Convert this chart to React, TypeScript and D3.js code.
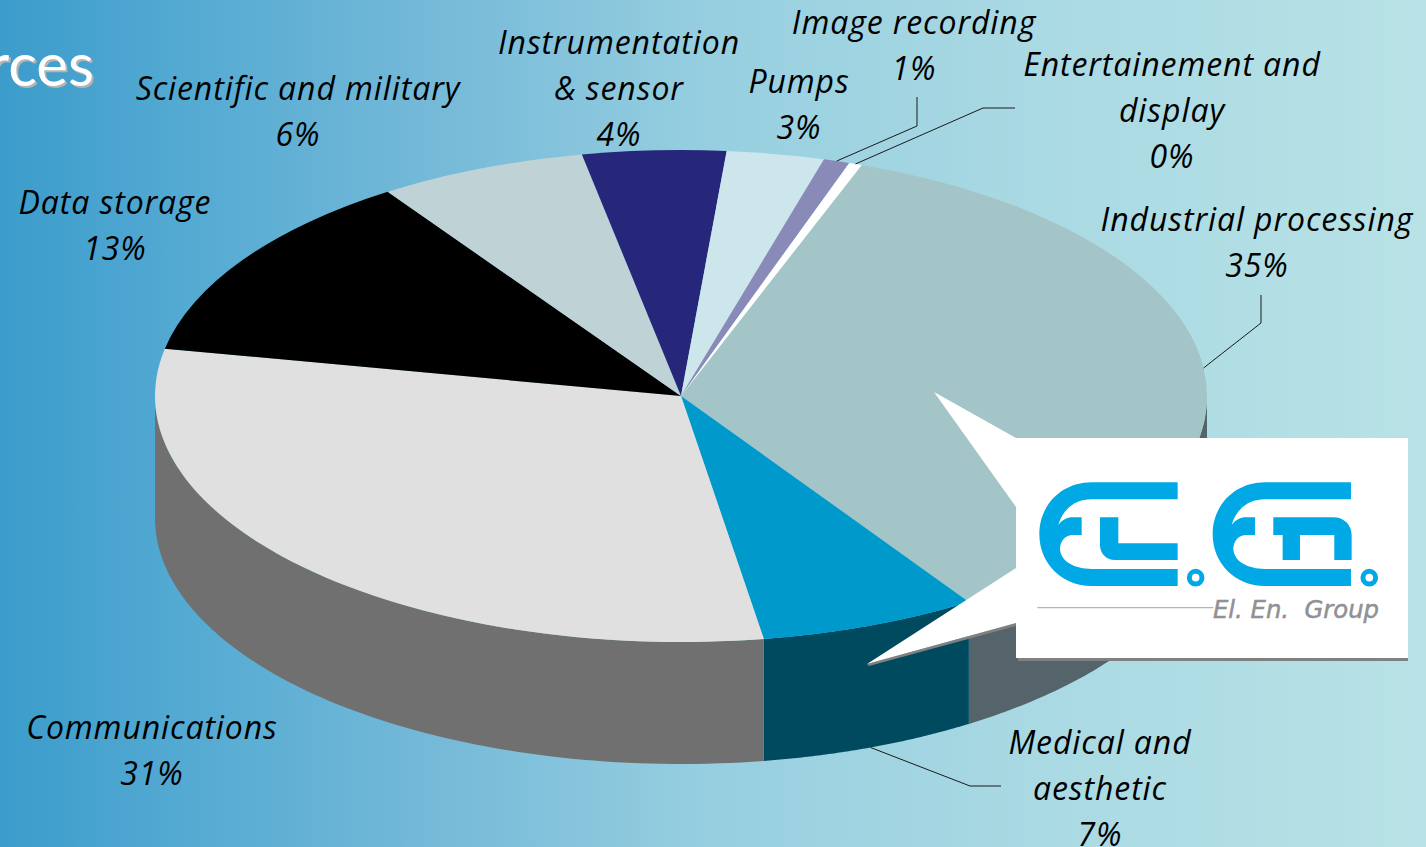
import React from "react";
import * as d3 from "d3";

// Market share by application, clockwise from the upper right of the pie.
const categories = [
  "Industrial processing",
  "Medical and aesthetic",
  "Communications",
  "Data storage",
  "Scientific and military",
  "Instrumentation & sensor",
  "Pumps",
  "Image recording",
  "Entertainement and display",
];
const shares = [35.2, 6.7, 30.6, 12.5, 6.4, 4.4, 3.0, 0.8, 0.4];
const topColors = ["#a4c5c8", "#0099cc", "#e0e0e0", "#000000", "#bfd2d6", "#26267a", "#cce6eb", "#8a8ab8", "#ffffff"];
const wallColors = ["#54646a", "#004a60", "#707070", "#000000", "#8f9ea1", "#1c1c5c", "#99adb0", "#686889", "#bfbfbf"];

const W = 1426;
const H = 847;
const cx = 681;
const cy = 396;
const rx = 526;
const ry = 246;
const depth = 122;
const firstAngle = (20.1 * Math.PI) / 180;

// Label text blocks: wrapped lines, centre x and first baseline.
const labelBlocks = [
  { lines: ["Industrial processing"], x: 1257, y: 231 },
  { lines: ["Medical and", "aesthetic"], x: 1100, y: 754 },
  { lines: ["Communications"], x: 152, y: 739 },
  { lines: ["Data storage"], x: 115, y: 214 },
  { lines: ["Scientific and military"], x: 298, y: 100 },
  { lines: ["Instrumentation", "& sensor"], x: 619, y: 54 },
  { lines: ["Pumps"], x: 799, y: 93 },
  { lines: ["Image recording"], x: 914, y: 34 },
  { lines: ["Entertainement and", "display"], x: 1172, y: 76 },
];
const lineStep = 46;

// Elbow leaders: slice index, whether it leaves the lower rim, and its outer points.
const leaders: [number, boolean, [number, number][]][] = [
  [0, false, [[1261, 323], [1261, 295]]],
  [1, true, [[970, 786], [1001, 786]]],
  [7, false, [[917, 126], [917, 97]]],
  [8, false, [[983, 108], [1015, 108]]],
];

const rimX = (a: number) => cx + rx * Math.sin(a);
const rimY = (a: number) => cy - ry * Math.cos(a);

const pieGen = d3
  .pie<number>()
  .sort(null)
  .startAngle(firstAngle)
  .endAngle(firstAngle + 2 * Math.PI);
const arcs = pieGen(shares);
const arcGen = d3.arc<d3.PieArcDatum<number>>().innerRadius(0).outerRadius(rx);
const polyline = d3.line<[number, number]>();

// Outer wall of one slice, limited to the front half of the ellipse.
function wallPath(a0: number, a1: number): string | null {
  const from = Math.max(a0, Math.PI / 2);
  const to = Math.min(a1, (3 * Math.PI) / 2);
  if (to <= from) return null;
  const steps = d3.range(0, 81).map((i) => from + ((to - from) * i) / 80);
  const upper = steps.map((a) => [rimX(a), rimY(a)] as [number, number]);
  const lower = steps.map((a) => [rimX(a), rimY(a) + depth] as [number, number]).reverse();
  return polyline([...upper, ...lower]) + "Z";
}

// One half of the company mark: rounded E outline with its crossbar.
const markE =
  "M533,187 H275 C185,187 118,255 118,342 C118,430 185,498 275,498 H533 V447 H275 C225,447 180,425 180,385 C182,360 198,345 218,345 H245 V292 H218 C202,292 186,300 175,315 C188,268 225,238 275,238 H533 Z";
const markL = "M300,292 H355 V370 H533 V420 H345 C318,420 300,400 300,375 Z";
const markN =
  "M820,292 H1000 C1032,292 1055,315 1055,345 V420 H1003 V345 H900 V420 H848 V345 H820 Z";

export default function App() {
  return (
    <svg
      width={W}
      height={H}
      viewBox={`0 0 ${W} ${H}`}
      style={{ position: "fixed", left: 0, top: 0, display: "block" }}
    >
      <defs>
        <linearGradient id="backdrop" x1="0" x2="1" y1="0" y2="0">
          <stop offset="0" stopColor="#3b9ccb" />
          <stop offset="0.12" stopColor="#52a9d2" />
          <stop offset="0.3" stopColor="#74b9d8" />
          <stop offset="0.5" stopColor="#97cfe0" />
          <stop offset="0.72" stopColor="#a9d9e3" />
          <stop offset="1" stopColor="#b8e2e6" />
        </linearGradient>
      </defs>
      <rect width={W} height={H} fill="url(#backdrop)" />

      <g fontFamily="Lato, sans-serif" fontSize={60} textAnchor="end">
        <text x={96} y={88} fill="#b4b4b4">rces</text>
        <text x={94} y={86} fill="#ffffff">rces</text>
      </g>

      {arcs.map((d, i) => {
        const p = wallPath(d.startAngle, d.endAngle);
        return p ? <path key={categories[i]} d={p} fill={wallColors[i]} /> : null;
      })}
      <g transform={`translate(${cx},${cy}) scale(1,${ry / rx})`}>
        {arcs.map((d, i) => (
          <path key={categories[i]} d={arcGen(d) ?? ""} fill={topColors[i]} />
        ))}
      </g>

      <g fill="none" stroke="#1a1a1a" strokeWidth={1}>
        {leaders.map(([i, lower, pts]) => {
          const mid = (arcs[i].startAngle + arcs[i].endAngle) / 2;
          const start: [number, number] = [rimX(mid), rimY(mid) + (lower ? depth : 0)];
          return <path key={i} d={polyline([start, ...pts]) ?? ""} />;
        })}
      </g>

      <g
        fontFamily="'Open Sans', sans-serif"
        fontStyle="italic"
        fontSize={32}
        letterSpacing={0.9}
        fill="#000"
        textAnchor="middle"
      >
        {labelBlocks.map((b, i) => (
          <text key={categories[i]} x={b.x} y={b.y}>
            {[...b.lines, `${Math.round(shares[i])}%`].map((t, j) => (
              <tspan key={j} x={b.x} y={b.y + j * lineStep}>{t}</tspan>
            ))}
          </text>
        ))}
      </g>

      {/* Logo callout with its two pointed tails and a thin lower shadow */}
      <path d="M869,666 L1016,626 V623 L867,664 Z" fill="#808080" />
      <rect x={1018} y={658} width={390} height={3} fill="#808080" />
      <path
        d="M934,392 L1016,438 H1408 V658 H1016 V623 L867,664 L1016,568 V507 Z"
        fill="#ffffff"
      />
      <g transform="translate(1000,420) scale(0.3333)">
        <g fill="#00a9e6">
          <path d={markE} />
          <path d={markL} />
          <path d={markE} transform="translate(520,0)" />
          <path d={markN} />
        </g>
        <g fill="none" stroke="#00a9e6" strokeWidth={15}>
          <circle cx={587} cy={473} r={19} />
          <circle cx={1108} cy={473} r={19} />
        </g>
        <line x1={112} x2={640} y1={563} y2={563} stroke="#b4b4b4" strokeWidth={4} />
      </g>
      <text
        x={1213}
        y={618}
        fontFamily="'DejaVu Sans', sans-serif"
        fontStyle="italic"
        fontSize={24}
        fill="#8f9195"
        stroke="#8f9195"
        strokeWidth={0.5}
        textLength={166}
        lengthAdjust="spacingAndGlyphs"
        style={{ whiteSpace: "pre" }}
      >
        El. En.  Group
      </text>
    </svg>
  );
}
